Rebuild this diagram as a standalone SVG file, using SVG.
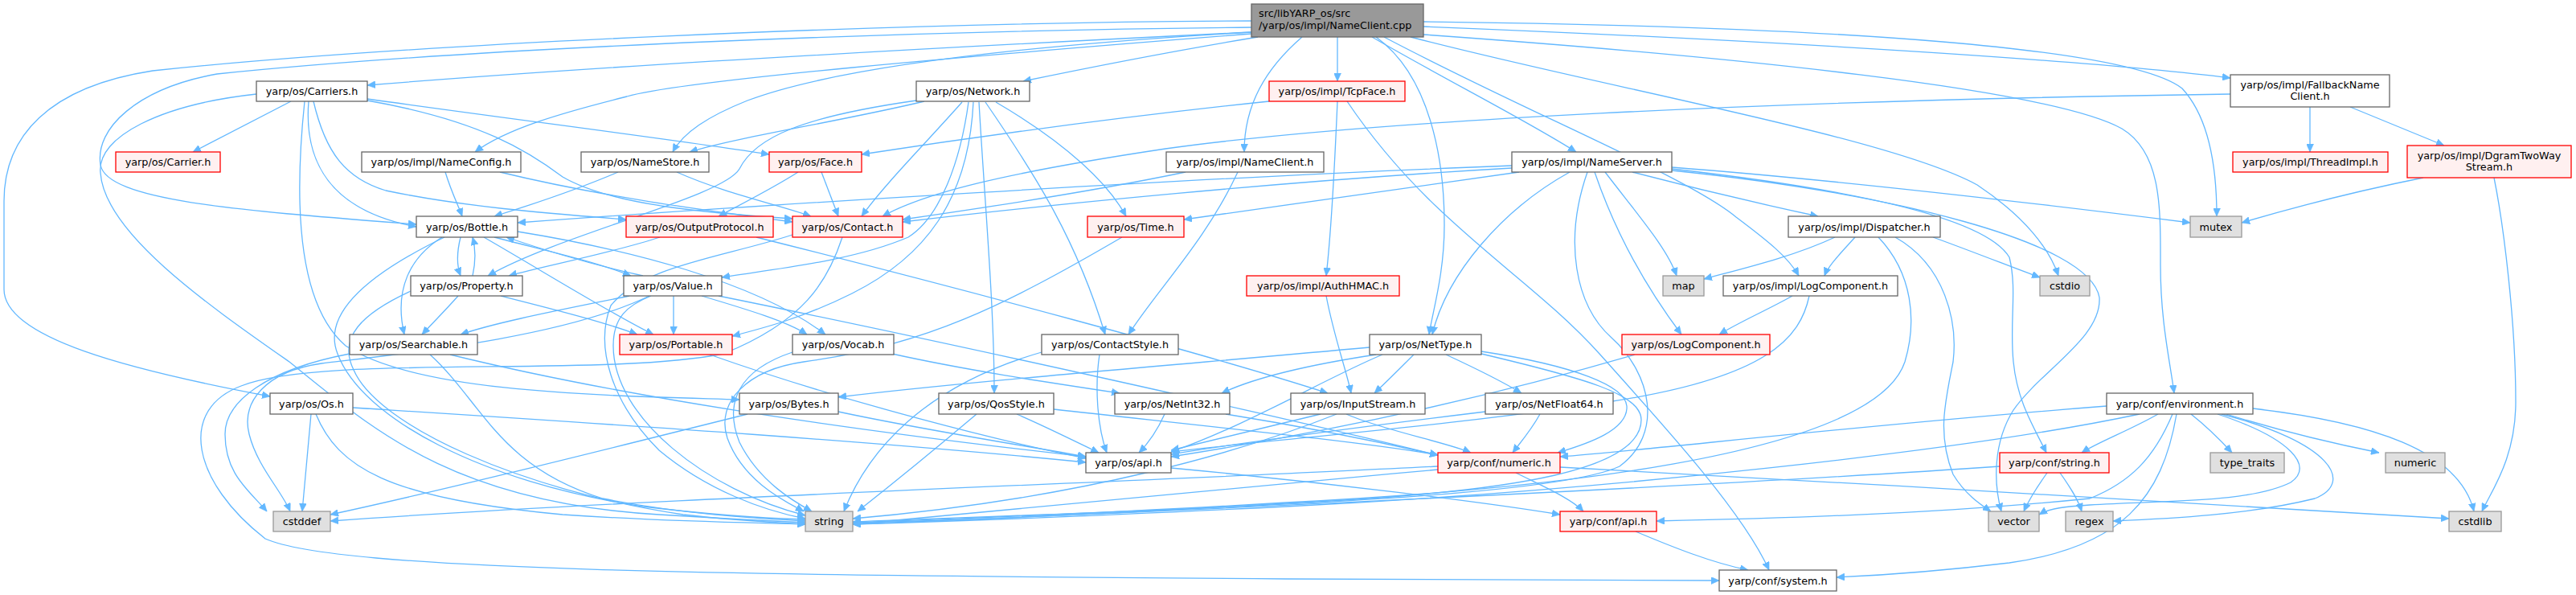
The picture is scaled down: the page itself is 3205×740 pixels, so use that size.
<svg xmlns="http://www.w3.org/2000/svg" width="3205" height="740" viewBox="0 0 3205 740">
<style>
rect{stroke-width:1.3}
.n rect{fill:#ffffff;stroke:#666666}
.r rect{fill:#fff0f0;stroke:#ff0000}
.g rect{fill:#e0e0e0;stroke:#999999}
.root rect{fill:#999999;stroke:#666666}
text{font-family:"DejaVu Sans",sans-serif;font-size:12.8px;text-anchor:middle;fill:#000000}
.root text{text-anchor:start}
.e path{fill:none;stroke:#63b8ff;stroke-width:1.3;marker-end:url(#a)}
</style>
<defs>
<marker id="a" markerWidth="10" markerHeight="9" refX="10" refY="4.5" orient="auto" markerUnits="userSpaceOnUse"><path d="M0,0 L10,4.5 L0,9 z" fill="#63b8ff" stroke="#63b8ff" stroke-width="0.6"/></marker>
</defs>
<rect x="0" y="0" width="3205" height="740" fill="#ffffff" stroke="none"/>
<g id="edges" class="e">
<path d="M1557,40 C1250,55 800,78 457,106"/>
<path d="M1557,26 C1100,28 500,55 190,88 C60,108 5,170 5,250 L5,360 C5,420 160,460 336,493"/>
<path d="M1557,34 C1150,38 600,58 270,92 C170,110 118,160 125,205 C133,250 300,262 518,279"/>
<path d="M1557,40 C1300,55 1050,80 930,125 C880,145 850,165 837,189"/>
<path d="M1565,46 C1450,65 1350,85 1273,101"/>
<path d="M1557,42 C1200,70 850,100 780,120 C700,140 630,160 591,189"/>
<path d="M1620,46 C1575,85 1548,130 1548,189"/>
<path d="M1664,46 L1664,101"/>
<path d="M1707,46 C1800,100 1900,150 1961,189"/>
<path d="M1712,46 C1780,95 1797,200 1797,280 C1797,340 1783,385 1778,416"/>
<path d="M1722,46 C1900,140 2100,220 2160,270 C2200,300 2225,320 2238,343"/>
<path d="M1755,46 C2000,110 2350,170 2460,230 C2520,270 2550,310 2561,343"/>
<path d="M1771,43 C2150,70 2550,110 2640,160 C2690,190 2688,260 2688,330 C2688,400 2700,450 2705,489"/>
<path d="M1771,27 C2300,33 2650,60 2715,110 C2752,150 2758,220 2758,269"/>
<path d="M1771,33 C2200,50 2600,75 2775,97"/>
<path d="M362,126 L240,189"/>
<path d="M384,126 C378,200 410,262 518,282"/>
<path d="M457,123 C650,150 850,175 957,192"/>
<path d="M457,125 C600,150 660,190 700,220 C760,255 880,265 986,272"/>
<path d="M390,126 C405,190 430,222 480,237 C580,258 690,266 779,273"/>
<path d="M319,117 C200,130 120,170 125,215 C130,290 260,380 360,450 C460,530 560,625 820,640 C900,645 960,648 1002,650"/>
<path d="M379,126 C365,260 372,380 430,430 C520,490 760,492 920,497"/>
<path d="M554,214 C562,240 570,255 575,269"/>
<path d="M622,214 C750,245 880,262 986,276"/>
<path d="M769,214 C720,235 660,255 615,269"/>
<path d="M842,214 C900,240 970,255 1009,269"/>
<path d="M993,214 C960,235 920,255 894,269"/>
<path d="M1022,214 L1043,269"/>
<path d="M1150,126 C1050,150 920,170 858,189"/>
<path d="M1140,125 C1000,145 940,170 920,210 C900,245 700,290 607,343"/>
<path d="M1197,127 C1150,180 1100,230 1072,269"/>
<path d="M1205,127 C1195,200 1170,270 1130,295 C1060,325 960,335 898,345"/>
<path d="M1211,127 C1205,250 1150,320 1060,365 C1000,395 950,408 911,418"/>
<path d="M1218,127 C1225,250 1237,380 1237,489"/>
<path d="M1226,127 C1290,220 1340,300 1375,416"/>
<path d="M1239,127 C1330,180 1380,230 1401,269"/>
<path d="M1579,126 C1350,150 1150,180 1072,192"/>
<path d="M1664,126 C1660,220 1655,300 1650,343"/>
<path d="M1676,126 C1780,280 1900,340 1990,440 C2080,540 2170,640 2201,709"/>
<path d="M1475,214 C1350,240 1200,262 1123,273"/>
<path d="M1540,214 C1500,300 1440,360 1404,416"/>
<path d="M1881,206 C1500,220 900,258 644,277"/>
<path d="M1881,209 C1600,225 1300,255 1123,276"/>
<path d="M1890,214 C1700,240 1550,262 1473,273"/>
<path d="M1953,214 C1870,260 1800,340 1782,416"/>
<path d="M1975,214 C1945,300 1960,380 2005,420 C2055,465 2070,540 2015,580 C1930,620 1500,632 1061,649"/>
<path d="M1984,214 C2010,290 2050,360 2092,416"/>
<path d="M1997,214 C2040,270 2075,310 2086,343"/>
<path d="M2031,214 C2130,240 2220,260 2262,269"/>
<path d="M2080,208 C2300,225 2550,255 2725,277"/>
<path d="M2080,210 C2300,235 2470,270 2500,320 C2510,360 2500,400 2505,450 C2510,500 2530,530 2546,563"/>
<path d="M2080,212 C2350,240 2600,300 2612,370 C2615,420 2540,460 2505,510 C2480,550 2480,600 2490,636"/>
<path d="M2283,295 C2230,320 2160,336 2120,347"/>
<path d="M2308,295 C2290,315 2275,330 2270,343"/>
<path d="M2405,295 C2460,315 2510,335 2538,345"/>
<path d="M2337,295 C2380,340 2385,400 2370,450 C2330,570 1900,610 1600,625 C1400,637 1200,645 1061,650"/>
<path d="M2358,295 C2420,330 2436,400 2430,450 C2420,500 2410,540 2430,590 C2445,615 2465,628 2477,636"/>
<path d="M2230,368 C2200,385 2165,400 2139,416"/>
<path d="M2251,368 C2240,420 2200,470 2000,500 C1800,530 1600,545 1457,562"/>
<path d="M2034,441 C1900,480 1700,530 1457,568"/>
<path d="M2775,117 C2200,125 1700,150 1450,185 C1250,215 1150,240 1098,269"/>
<path d="M2874,133 L2874,189"/>
<path d="M2924,133 L3041,181"/>
<path d="M3015,221 C2920,240 2840,262 2789,277"/>
<path d="M3103,221 C3115,280 3130,400 3130,500 C3130,570 3100,610 3088,636"/>
<path d="M1650,368 C1660,420 1675,460 1681,489"/>
<path d="M821,295 C760,315 680,330 633,343"/>
<path d="M941,295 C1200,360 1500,440 1652,489"/>
<path d="M1396,295 C1250,380 1150,430 1000,450 C930,460 890,500 905,545 C925,600 980,625 1000,636"/>
<path d="M1048,295 C1030,350 1000,400 900,440 C750,470 400,440 300,480 C220,510 240,600 330,670 C420,710 900,715 1600,720 C1900,722 2050,722 2139,722"/>
<path d="M986,292 C900,320 800,330 760,380 C740,430 760,500 820,560 C880,610 950,635 1002,645"/>
<path d="M800,343 C740,330 680,312 630,295"/>
<path d="M615,295 C680,312 740,325 785,343"/>
<path d="M838,368 L838,416"/>
<path d="M783,368 C700,385 620,400 573,416"/>
<path d="M873,368 C930,385 980,400 1004,416"/>
<path d="M810,368 C780,380 763,395 763,430 C763,520 880,610 1002,641"/>
<path d="M808,368 C700,420 500,440 400,452 C330,462 300,500 310,540 C320,580 350,610 361,636"/>
<path d="M894,368 C1200,430 1600,520 1789,566"/>
<path d="M573,295 C568,315 568,330 573,343"/>
<path d="M588,343 C592,325 592,310 588,295"/>
<path d="M550,295 C510,320 490,360 503,416"/>
<path d="M602,295 C680,340 760,390 813,416"/>
<path d="M644,288 C780,310 940,350 1027,416"/>
<path d="M553,295 C460,340 400,390 420,440 C450,520 600,600 800,630 C900,642 960,645 1002,646"/>
<path d="M570,368 C555,385 540,400 525,416"/>
<path d="M623,368 C690,385 750,400 793,416"/>
<path d="M511,362 C450,390 420,420 440,460 C470,530 650,610 850,640 C920,648 970,650 1002,652"/>
<path d="M435,440 C330,460 280,500 280,540 C280,590 310,610 332,636"/>
<path d="M535,441 C600,500 620,580 750,620 C850,640 950,645 1002,648"/>
<path d="M560,441 C800,500 1100,540 1351,568"/>
<path d="M883,441 C1050,500 1250,550 1351,570"/>
<path d="M1110,440 C1200,460 1300,475 1393,489"/>
<path d="M986,438 C920,460 900,500 920,550 C945,600 990,625 1010,636"/>
<path d="M387,515 L376,636"/>
<path d="M439,507 C800,530 1100,550 1351,575"/>
<path d="M393,515 C420,580 480,620 700,640 C850,650 950,650 1002,652"/>
<path d="M930,515 C750,560 550,610 411,640"/>
<path d="M1043,512 C1150,535 1280,555 1351,568"/>
<path d="M1296,438 C1150,480 1080,560 1050,636"/>
<path d="M1368,441 C1362,480 1365,530 1377,563"/>
<path d="M1215,515 C1150,570 1100,610 1067,636"/>
<path d="M1265,515 C1300,530 1340,550 1367,563"/>
<path d="M1311,509 C1500,530 1700,550 1789,566"/>
<path d="M1449,515 C1440,535 1430,550 1417,563"/>
<path d="M1525,515 C1650,535 1740,555 1789,566"/>
<path d="M1704,432 C1450,455 1200,475 1043,494"/>
<path d="M1712,441 C1620,455 1560,470 1520,489"/>
<path d="M1720,441 C1650,470 1550,530 1457,562"/>
<path d="M1759,441 C1740,460 1725,475 1710,489"/>
<path d="M1799,441 C1840,460 1870,475 1893,489"/>
<path d="M1843,437 C1960,455 2022,480 2024,505 C2026,535 1975,552 1938,563"/>
<path d="M1843,440 C1970,470 2042,490 2042,522 C2042,582 1900,612 1600,626 C1400,638 1200,647 1061,650"/>
<path d="M1643,515 C1580,530 1500,550 1457,560"/>
<path d="M1675,515 C1720,535 1800,550 1830,563"/>
<path d="M1663,515 C1550,560 1350,620 1061,645"/>
<path d="M1916,515 C1905,535 1892,550 1882,563"/>
<path d="M1848,512 C1700,530 1550,550 1457,565"/>
<path d="M1886,588 C1920,605 1955,620 1970,636"/>
<path d="M1941,581 C2300,600 2800,630 3047,645"/>
<path d="M1789,580 C1400,600 800,620 411,648"/>
<path d="M1789,584 C1500,610 1200,640 1061,652"/>
<path d="M1457,582 C1650,600 1850,625 1941,640"/>
<path d="M2035,661 C2080,680 2130,700 2175,709"/>
<path d="M2621,505 C2300,530 2050,560 1941,568"/>
<path d="M2662,515 C2450,560 2000,610 1600,630 C1400,640 1200,648 1061,652"/>
<path d="M2685,515 C2650,535 2610,550 2590,563"/>
<path d="M2703,515 C2680,570 2650,600 2600,620 C2400,640 2200,645 2061,648"/>
<path d="M2708,515 C2690,620 2640,680 2500,700 C2400,712 2330,716 2285,718"/>
<path d="M2726,515 C2745,530 2765,550 2777,563"/>
<path d="M2759,515 C2850,545 2880,580 2850,600 C2800,625 2700,622 2600,628 C2570,630 2550,632 2537,640"/>
<path d="M2764,515 C2900,550 2930,600 2880,620 C2800,640 2700,645 2629,648"/>
<path d="M2770,515 C2850,540 2920,555 2960,563"/>
<path d="M2803,508 C2950,525 3060,560 3078,636"/>
<path d="M2547,588 C2535,605 2525,620 2518,636"/>
<path d="M2563,588 C2575,605 2585,620 2590,636"/>
<path d="M2488,580 C2200,600 1600,630 1061,652"/>
</g>
<g id="n-root" class="root"><rect x="1557" y="5" width="214" height="41"/><text x="1566" y="21">src/libYARP_os/src</text><text x="1566" y="36">/yarp/os/impl/NameClient.cpp</text></g>
<g id="n-carriers" class="n"><rect x="319" y="101" width="138" height="25"/><text x="388" y="118.1">yarp/os/Carriers.h</text></g>
<g id="n-network" class="n"><rect x="1140" y="101" width="141" height="25"/><text x="1210.5" y="118.1">yarp/os/Network.h</text></g>
<g id="n-tcpface" class="r"><rect x="1579" y="101" width="169" height="25"/><text x="1663.5" y="118.1">yarp/os/impl/TcpFace.h</text></g>
<g id="n-fallback" class="n"><rect x="2775" y="93" width="198" height="40"/><text x="2874" y="109.6">yarp/os/impl/FallbackName</text><text x="2874" y="124">Client.h</text></g>
<g id="n-carrier" class="r"><rect x="144" y="189" width="130" height="25"/><text x="209" y="206.1">yarp/os/Carrier.h</text></g>
<g id="n-nameconfig" class="n"><rect x="450" y="189" width="198" height="25"/><text x="549" y="206.1">yarp/os/impl/NameConfig.h</text></g>
<g id="n-namestore" class="n"><rect x="723" y="189" width="159" height="25"/><text x="802.5" y="206.1">yarp/os/NameStore.h</text></g>
<g id="n-face" class="r"><rect x="957" y="189" width="115" height="25"/><text x="1014.5" y="206.1">yarp/os/Face.h</text></g>
<g id="n-implnameclient" class="n"><rect x="1451" y="189" width="196" height="25"/><text x="1549" y="206.1">yarp/os/impl/NameClient.h</text></g>
<g id="n-nameserver" class="n"><rect x="1881" y="189" width="199" height="25"/><text x="1980.5" y="206.1">yarp/os/impl/NameServer.h</text></g>
<g id="n-threadimpl" class="r"><rect x="2778" y="189" width="193" height="25"/><text x="2874.5" y="206.1">yarp/os/impl/ThreadImpl.h</text></g>
<g id="n-dgram" class="r"><rect x="2995" y="181" width="204" height="40"/><text x="3097" y="197.9">yarp/os/impl/DgramTwoWay</text><text x="3097" y="211.9">Stream.h</text></g>
<g id="n-bottle" class="n"><rect x="518" y="269" width="126" height="26"/><text x="581" y="286.6">yarp/os/Bottle.h</text></g>
<g id="n-outputprotocol" class="r"><rect x="779" y="269" width="183" height="26"/><text x="870.5" y="286.6">yarp/os/OutputProtocol.h</text></g>
<g id="n-contact" class="r"><rect x="986" y="269" width="137" height="26"/><text x="1054.5" y="286.6">yarp/os/Contact.h</text></g>
<g id="n-time" class="r"><rect x="1353" y="269" width="120" height="26"/><text x="1413" y="286.6">yarp/os/Time.h</text></g>
<g id="n-dispatcher" class="n"><rect x="2225" y="269" width="189" height="26"/><text x="2319.5" y="286.6">yarp/os/impl/Dispatcher.h</text></g>
<g id="n-mutex" class="g"><rect x="2725" y="269" width="64" height="26"/><text x="2757" y="286.6">mutex</text></g>
<g id="n-property" class="n"><rect x="511" y="343" width="139" height="25"/><text x="580.5" y="360.1">yarp/os/Property.h</text></g>
<g id="n-value" class="n"><rect x="776" y="343" width="122" height="25"/><text x="837" y="360.1">yarp/os/Value.h</text></g>
<g id="n-authhmac" class="r"><rect x="1551" y="343" width="190" height="25"/><text x="1646" y="360.1">yarp/os/impl/AuthHMAC.h</text></g>
<g id="n-map" class="g"><rect x="2069" y="343" width="51" height="25"/><text x="2094.5" y="360.1">map</text></g>
<g id="n-impllogcomponent" class="n"><rect x="2144" y="343" width="217" height="25"/><text x="2252.5" y="360.1">yarp/os/impl/LogComponent.h</text></g>
<g id="n-cstdio" class="g"><rect x="2538" y="343" width="62" height="25"/><text x="2569" y="360.1">cstdio</text></g>
<g id="n-searchable" class="n"><rect x="435" y="416" width="159" height="25"/><text x="514.5" y="433.1">yarp/os/Searchable.h</text></g>
<g id="n-portable" class="r"><rect x="771" y="416" width="140" height="25"/><text x="841" y="433.1">yarp/os/Portable.h</text></g>
<g id="n-vocab" class="n"><rect x="986" y="416" width="126" height="25"/><text x="1049" y="433.1">yarp/os/Vocab.h</text></g>
<g id="n-contactstyle" class="n"><rect x="1296" y="416" width="170" height="25"/><text x="1381" y="433.1">yarp/os/ContactStyle.h</text></g>
<g id="n-nettype" class="n"><rect x="1704" y="416" width="139" height="25"/><text x="1773.5" y="433.1">yarp/os/NetType.h</text></g>
<g id="n-logcomponent" class="r"><rect x="2018" y="416" width="184" height="25"/><text x="2110" y="433.1">yarp/os/LogComponent.h</text></g>
<g id="n-os" class="n"><rect x="336" y="489" width="103" height="26"/><text x="387.5" y="506.6">yarp/os/Os.h</text></g>
<g id="n-bytes" class="n"><rect x="920" y="489" width="123" height="26"/><text x="981.5" y="506.6">yarp/os/Bytes.h</text></g>
<g id="n-qosstyle" class="n"><rect x="1168" y="489" width="143" height="26"/><text x="1239.5" y="506.6">yarp/os/QosStyle.h</text></g>
<g id="n-netint32" class="n"><rect x="1387" y="489" width="143" height="26"/><text x="1458.5" y="506.6">yarp/os/NetInt32.h</text></g>
<g id="n-inputstream" class="n"><rect x="1606" y="489" width="167" height="26"/><text x="1689.5" y="506.6">yarp/os/InputStream.h</text></g>
<g id="n-netfloat64" class="n"><rect x="1848" y="489" width="159" height="26"/><text x="1927.5" y="506.6">yarp/os/NetFloat64.h</text></g>
<g id="n-environment" class="n"><rect x="2621" y="489" width="182" height="26"/><text x="2712" y="506.6">yarp/conf/environment.h</text></g>
<g id="n-osapi" class="n"><rect x="1351" y="563" width="106" height="25"/><text x="1404" y="580.1">yarp/os/api.h</text></g>
<g id="n-confnumeric" class="r"><rect x="1789" y="563" width="152" height="25"/><text x="1865" y="580.1">yarp/conf/numeric.h</text></g>
<g id="n-confstring" class="r"><rect x="2488" y="563" width="136" height="25"/><text x="2556" y="580.1">yarp/conf/string.h</text></g>
<g id="n-typetraits" class="g"><rect x="2750" y="563" width="92" height="25"/><text x="2796" y="580.1">type_traits</text></g>
<g id="n-numeric" class="g"><rect x="2968" y="563" width="74" height="25"/><text x="3005" y="580.1">numeric</text></g>
<g id="n-cstddef" class="g"><rect x="340" y="636" width="71" height="25"/><text x="375.5" y="653.1">cstddef</text></g>
<g id="n-string" class="g"><rect x="1002" y="636" width="59" height="25"/><text x="1031.5" y="653.1">string</text></g>
<g id="n-confapi" class="r"><rect x="1941" y="636" width="120" height="25"/><text x="2001" y="653.1">yarp/conf/api.h</text></g>
<g id="n-vector" class="g"><rect x="2474" y="636" width="63" height="25"/><text x="2505.5" y="653.1">vector</text></g>
<g id="n-regex" class="g"><rect x="2570" y="636" width="59" height="25"/><text x="2599.5" y="653.1">regex</text></g>
<g id="n-cstdlib" class="g"><rect x="3047" y="636" width="65" height="25"/><text x="3079.5" y="653.1">cstdlib</text></g>
<g id="n-system" class="n"><rect x="2139" y="709" width="146" height="26"/><text x="2212" y="726.6">yarp/conf/system.h</text></g>
</svg>
